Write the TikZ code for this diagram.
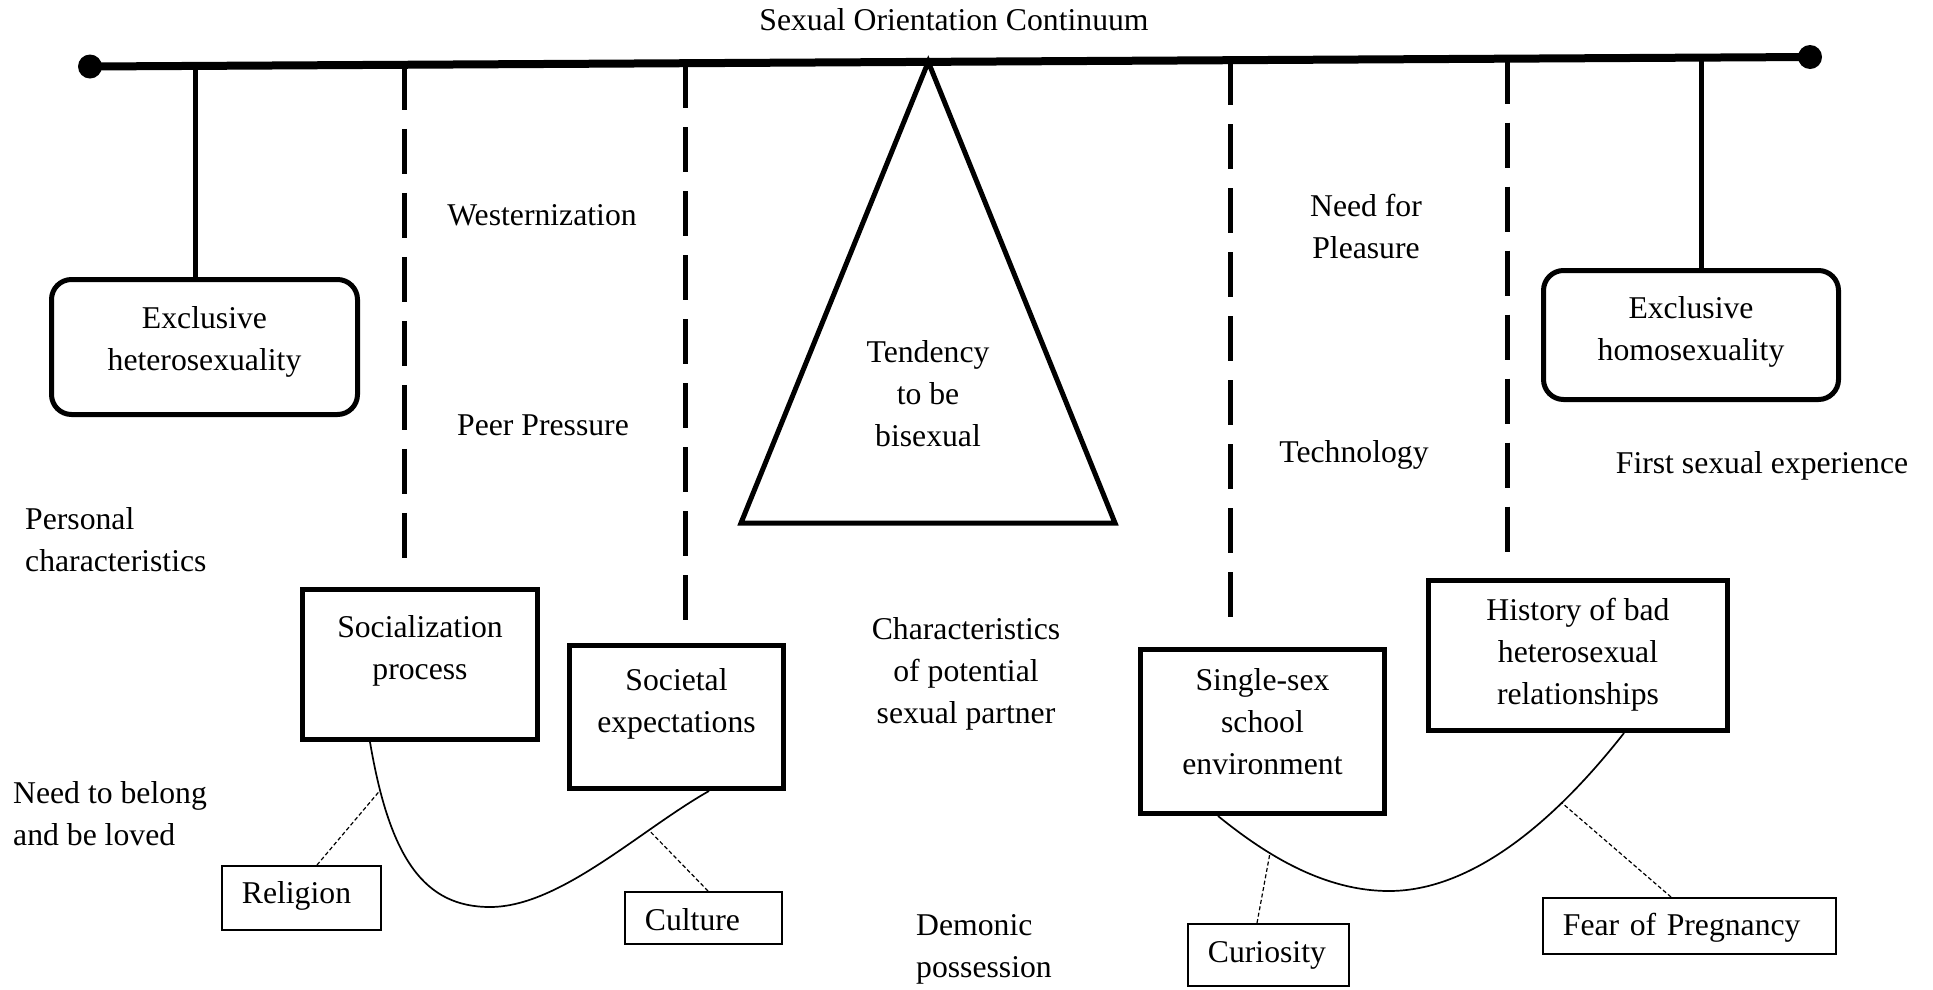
\documentclass[tikz,border=0pt]{standalone}
\usepackage{fontspec}
\setmainfont{Liberation Serif}
\usetikzlibrary{positioning, calc}

\tikzset{
  lbl/.style={anchor=base},
  lblleft/.style={anchor=base west, align=left},
  endpt/.style={circle, fill, minimum size=24pt},
  bigbox/.style={draw, line width=5pt, anchor=north west},
  roundbox/.style={bigbox, rounded corners=20pt},
  tagbox/.style={draw, line width=1.8pt, anchor=north west, inner xsep=20pt, align=left},
  hang/.style={line width=5pt},
  dashhang/.style={line width=5pt, dash pattern=on 45pt off 19pt, shorten >=11pt},
  arcline/.style={line width=1.7pt},
  link/.style={line width=1.2pt, dash pattern=on 4pt off 2.5pt}
}

\begin{document}
\begin{tikzpicture}[x=1pt, y=-1pt,
    every node/.style={font=\fontsize{31.7}{42}\selectfont, inner sep=0pt, align=center}]
  \useasboundingbox (0,0) rectangle (1933,989);

  \node[lbl] (title) at (954,30) {Sexual Orientation Continuum};

  \node[endpt] (lend) at (90,66.5) {};
  \node[endpt] (rend) at (1810,57) {};
  \draw[line width=8pt] (lend.center) -- (rend.center);

  \coordinate (b1) at ($(lend)!(195,0)!(rend)$);
  \coordinate (b2) at ($(lend)!(404,0)!(rend)$);
  \coordinate (b3) at ($(lend)!(685,0)!(rend)$);
  \coordinate (apex) at ($(lend)!(928,0)!(rend)$);
  \coordinate (b4) at ($(lend)!(1230,0)!(rend)$);
  \coordinate (b5) at ($(lend)!(1507,0)!(rend)$);
  \coordinate (b6) at ($(lend)!(1701,0)!(rend)$);

  \node[roundbox, text height=91pt, text depth=44pt, minimum width=306pt] (hetero) at (49,277) {Exclusive\\heterosexuality};
  \node[roundbox, text height=90pt, text depth=39pt, minimum width=295pt] (homo) at (1541,268) {Exclusive\\homosexuality};
  \node[bigbox, text height=90pt, text depth=60pt, minimum width=235pt] (social) at (300,587) {Socialization\\process};
  \node[bigbox, text height=87pt, text depth=56pt, minimum width=214pt] (societal) at (567,643) {Societal\\expectations};
  \node[bigbox, text height=125pt, text depth=39pt, minimum width=244pt] (single) at (1138,647) {Single-sex\\school\\environment};
  \node[bigbox, text height=124pt, text depth=26pt, minimum width=299pt] (history) at (1426,578) {History of bad\\heterosexual\\relationships};

  \node[tagbox, text height=38pt, text depth=26pt, text width=119pt] (religion) at (221,865) {Religion};
  \node[tagbox, text height=39pt, text depth=13pt, text width=117pt] (culture) at (624,891) {Culture};
  \node[tagbox, text height=39pt, text depth=23pt, text width=121pt] (curiosity) at (1187,923) {Curiosity};
  \node[tagbox, text height=38pt, text depth=18pt, text width=253pt] (fear) at (1542,897) {Fear of Pregnancy};

  \draw[line width=5pt] (apex) -- (741,523) -- (1115,523) -- cycle;
  \node[lbl] (bi) at (928,446) {Tendency\\to be\\bisexual};

  \path (b1) edge[hang] (b1 |- hetero.north)
        (b6) edge[hang] (b6 |- homo.north)
        (b2) edge[dashhang] (b2 |- social.north)
        (b3) edge[dashhang] (b3 |- societal.north)
        (b4) edge[dashhang] (b4 |- single.north)
        (b5) edge[dashhang] (b5 |- history.north);

  \node[lbl] (west) at (542,225) {Westernization};
  \node[lbl] (peer) at (543,435) {Peer Pressure};
  \node[lblleft] (personal) at (25,571) {Personal\\characteristics};
  \node[lblleft] (belong) at (13,845) {Need to belong\\and be loved};
  \node[lbl] (partner) at (966,723) {Characteristics\\of potential\\sexual partner};
  \node[lblleft] (demon) at (916,977) {Demonic\\possession};
  \node[lbl] (pleasure) at (1366,258) {Need for\\Pleasure};
  \node[lbl] (tech) at (1354,462) {Technology};
  \node[lbl] (first) at (1762,473) {First sexual experience};

  \draw[arcline] ([xshift=70pt]social.south west)
      .. controls (390,860) and (425,907) .. coordinate[pos=0.15] (c1) (490,907)
      .. controls (560,907) and (640,830) .. coordinate[pos=0.72] (c2) ([xshift=-77pt]societal.south east);
  \draw[arcline] ([xshift=80pt]single.south west)
      .. controls (1260,850) and (1320,891) .. coordinate[pos=0.36] (c3) (1389,891)
      .. controls (1460,891) and (1540,840) .. coordinate[pos=0.75] (c4) ([xshift=198pt]history.south west);

  \path (religion.north -| 317,0) edge[link] (c1)
        (culture.north -| 708,0) edge[link] (c2)
        (curiosity.north -| 1257,0) edge[link] (c3)
        (fear.north -| 1671,0) edge[link] (c4);
\end{tikzpicture}
\end{document}
